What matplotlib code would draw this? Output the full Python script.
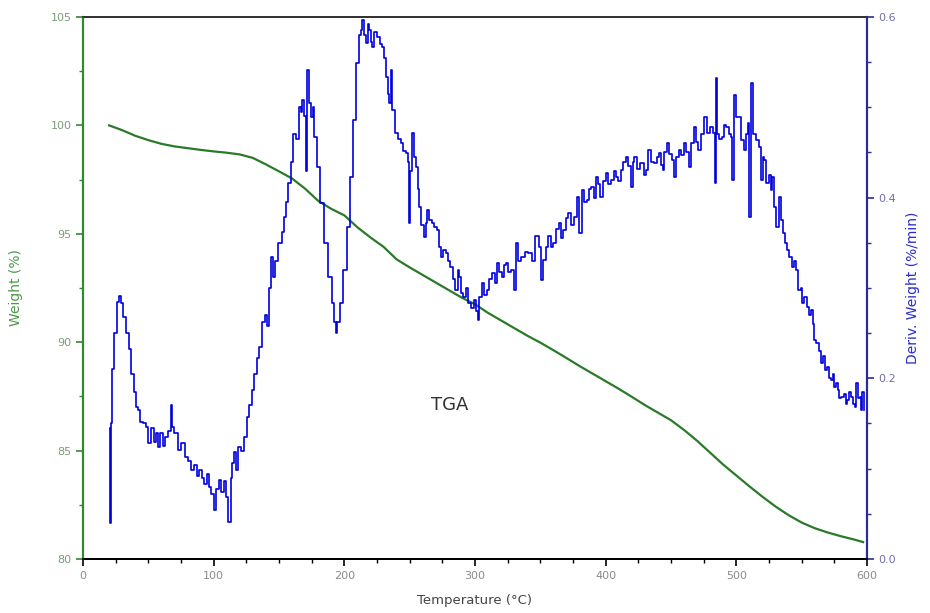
import matplotlib
matplotlib.use("Agg")
import matplotlib.pyplot as plt
from matplotlib.ticker import MultipleLocator

# --- DATA ---
# TGA weight curve
temp_w = [20, 30, 40, 50, 60, 70, 80, 90, 100, 110, 120, 130, 140, 150, 160,
          170, 180, 190, 200, 210, 220, 230, 240, 250, 260, 270, 280, 290, 300,
          310, 320, 330, 340, 350, 360, 370, 380, 390, 400, 410, 420, 430, 440,
          450, 460, 470, 480, 490, 500, 510, 520, 530, 540, 550, 560, 570, 580,
          590, 597]
weight = [100.0, 99.78, 99.52, 99.32, 99.15, 99.03, 98.95, 98.87, 98.8, 98.74,
          98.66, 98.5, 98.2, 97.88, 97.55, 97.08, 96.52, 96.15, 95.85, 95.3,
          94.83, 94.4, 93.82, 93.45, 93.1, 92.75, 92.4, 92.05, 91.75, 91.35,
          91.0, 90.65, 90.3, 89.98, 89.63, 89.27, 88.9, 88.55, 88.2, 87.85,
          87.48, 87.1, 86.75, 86.4, 85.95, 85.45, 84.9, 84.35, 83.85, 83.35,
          82.87, 82.42, 82.02, 81.68, 81.42, 81.22, 81.05, 80.9, 80.78]

# derivative weight curve (noisy DTG signal)
temp_d = [20.5, 21.0, 21.5, 23.0, 25.0, 27.0, 28.5, 30.0, 32.0, 34.0, 36.0, 38.0,
          40.0, 41.0, 43.0, 45.0, 47.0, 49.0, 51.0, 53.0, 55.0, 56.5, 58.0, 60.0,
          62.0, 64.0, 66.0, 68.0, 69.0, 71.0, 74.0, 76.0, 79.5, 82.0, 84.0, 86.0,
          88.0, 90.0, 92.0, 94.0, 95.5, 97.0, 99.0, 101.0, 103.0, 105.0, 107.0,
          109.0, 110.0, 112.5, 113.5, 115.0, 116.5, 118.0, 120.0, 122.0, 125.0,
          126.5, 128.0, 130.0, 132.0, 134.0, 136.0, 138.0, 140.0, 141.5, 143.0,
          144.5, 146.0, 148.0, 151.0, 153.0, 154.5, 156.5, 158.0, 160.0, 162.0,
          164.0, 166.0, 167.5, 168.5, 170.0, 171.0, 172.0, 173.5, 175.0, 176.5,
          177.5, 180.0, 183.0, 186.5, 189.0, 191.5, 193.0, 194.0, 195.5, 198.0,
          200.5, 203.0, 206.0, 208.0, 210.0, 212.0, 213.0, 214.5, 216.0, 217.0,
          218.5, 219.5, 221.0, 222.0, 224.0, 226.0, 228.0, 229.5, 231.0, 232.5,
          234.0, 235.0, 236.0, 237.5, 240.0, 242.0, 244.0, 246.0, 248.0, 249.0,
          250.0, 251.0, 252.5, 254.0, 255.5, 257.0, 258.0, 260.0, 261.5, 263.0,
          264.0, 266.0, 268.0, 270.0, 271.5, 273.0, 274.5, 276.5, 278.5, 280.0,
          282.0, 284.0, 286.0, 287.5, 288.5, 290.0, 292.0, 294.0, 296.0, 298.0,
          300.0, 301.5, 302.5, 304.0, 306.0, 308.0, 310.0, 312.0, 314.0, 316.0,
          317.5, 319.5, 321.5, 323.0, 324.5, 326.5, 329.0, 330.5, 332.0, 334.0,
          337.0, 339.5, 342.0, 344.5, 348.0, 349.5, 351.0, 353.5, 355.0, 357.0,
          359.0, 361.0, 363.0, 365.0, 366.5, 368.5, 370.5, 372.5, 374.5, 376.5,
          379.0, 380.5, 382.5, 384.5, 386.5, 388.0, 390.0, 391.5, 393.0, 395.0,
          397.0, 399.0, 401.0, 403.0, 405.0, 407.0, 408.5, 410.5, 412.5, 414.5,
          416.5, 418.0, 420.0, 421.5, 422.5, 425.0, 428.0, 430.0, 431.5, 434.0,
          436.0, 438.0, 440.0, 441.5, 443.0, 444.0, 446.0, 447.5, 449.5, 451.5,
          453.0, 455.0, 457.0, 459.0, 460.5, 462.5, 464.5, 466.5, 468.5, 470.0,
          472.0, 474.0, 476.0, 478.5, 481.0, 483.5, 484.5, 485.0, 486.0, 488.0,
          490.0, 491.5, 493.0, 495.0, 496.5, 497.5, 499.0, 501.0, 503.0, 504.5,
          506.5, 508.0, 509.5, 510.5, 512.0, 513.5, 516.0, 518.0, 519.5, 521.0,
          522.0, 524.0, 525.5, 527.0, 528.0, 529.5, 531.0, 533.5, 535.0, 536.0,
          538.0, 539.0, 541.0, 543.5, 545.0, 546.0, 548.5, 550.0, 551.0, 553.0,
          555.0, 556.5, 558.0, 559.0, 560.0, 562.5, 564.0, 565.5, 567.0, 568.0,
          570.0, 571.5, 573.0, 574.5, 575.5, 577.0, 578.0, 579.5, 581.0, 583.0,
          584.5, 585.5, 587.0, 588.5, 590.0, 591.0, 592.5, 594.0, 594.5, 596.0,
          597.0, 598.0]
deriv = [0.145, 0.040, 0.150, 0.210, 0.250, 0.285, 0.291, 0.283, 0.268, 0.250,
         0.232, 0.205, 0.185, 0.168, 0.165, 0.152, 0.150, 0.146, 0.128, 0.145,
         0.130, 0.139, 0.124, 0.140, 0.125, 0.135, 0.142, 0.170, 0.146, 0.140,
         0.121, 0.128, 0.113, 0.108, 0.098, 0.104, 0.092, 0.098, 0.090, 0.083,
         0.094, 0.080, 0.072, 0.054, 0.078, 0.087, 0.074, 0.086, 0.069, 0.041,
         0.090, 0.106, 0.118, 0.098, 0.124, 0.120, 0.135, 0.157, 0.170, 0.187,
         0.205, 0.222, 0.235, 0.262, 0.270, 0.258, 0.300, 0.334, 0.312, 0.330,
         0.350, 0.362, 0.379, 0.395, 0.416, 0.440, 0.471, 0.465, 0.500, 0.495,
         0.508, 0.490, 0.430, 0.541, 0.505, 0.489, 0.500, 0.467, 0.434, 0.394,
         0.350, 0.312, 0.283, 0.262, 0.250, 0.262, 0.283, 0.320, 0.367, 0.423,
         0.486, 0.549, 0.580, 0.586, 0.597, 0.580, 0.571, 0.592, 0.586, 0.572,
         0.567, 0.583, 0.578, 0.570, 0.567, 0.555, 0.534, 0.515, 0.505, 0.541,
         0.497, 0.472, 0.465, 0.460, 0.452, 0.449, 0.440, 0.372, 0.430, 0.472,
         0.445, 0.434, 0.410, 0.390, 0.370, 0.356, 0.372, 0.386, 0.375, 0.372,
         0.368, 0.364, 0.345, 0.334, 0.342, 0.339, 0.330, 0.323, 0.310, 0.298,
         0.320, 0.312, 0.295, 0.290, 0.300, 0.283, 0.278, 0.287, 0.275, 0.265,
         0.290, 0.306, 0.292, 0.298, 0.310, 0.317, 0.305, 0.328, 0.318, 0.312,
         0.325, 0.328, 0.318, 0.320, 0.298, 0.350, 0.330, 0.334, 0.340, 0.339,
         0.330, 0.357, 0.345, 0.309, 0.331, 0.345, 0.357, 0.345, 0.350, 0.365,
         0.372, 0.355, 0.364, 0.378, 0.383, 0.370, 0.379, 0.401, 0.361, 0.408,
         0.395, 0.397, 0.410, 0.412, 0.400, 0.423, 0.415, 0.401, 0.418, 0.427,
         0.415, 0.420, 0.430, 0.423, 0.418, 0.431, 0.440, 0.445, 0.435, 0.412,
         0.440, 0.445, 0.432, 0.438, 0.425, 0.431, 0.453, 0.440, 0.438, 0.445,
         0.449, 0.436, 0.431, 0.450, 0.460, 0.448, 0.442, 0.423, 0.445, 0.453,
         0.447, 0.460, 0.450, 0.434, 0.460, 0.478, 0.462, 0.453, 0.470, 0.489,
         0.472, 0.478, 0.472, 0.416, 0.532, 0.470, 0.465, 0.467, 0.480, 0.478,
         0.470, 0.467, 0.420, 0.514, 0.489, 0.489, 0.464, 0.453, 0.470, 0.483,
         0.379, 0.527, 0.470, 0.464, 0.456, 0.420, 0.445, 0.442, 0.416, 0.425,
         0.408, 0.423, 0.390, 0.368, 0.401, 0.375, 0.361, 0.350, 0.342, 0.334,
         0.323, 0.330, 0.320, 0.298, 0.300, 0.283, 0.290, 0.279, 0.270, 0.276,
         0.260, 0.242, 0.239, 0.230, 0.217, 0.225, 0.209, 0.213, 0.200, 0.198,
         0.205, 0.190, 0.195, 0.187, 0.178, 0.179, 0.183, 0.172, 0.176, 0.185,
         0.179, 0.172, 0.168, 0.195, 0.178, 0.179, 0.165, 0.185, 0.165]

# --- COLOURS ---
GREEN = "#2a7a2a"
GREEN_AX = "#2e8b2e"
GREEN_TXT = "#4a9a4a"
BLUE = "#0000dd"
BLUE_AX = "#2a2a9a"
BLUE_TXT = "#2a2ad0"
GREY = "#8a8a8a"

fig = plt.figure(figsize=(9.3, 6.13), dpi=100)
ax1 = fig.add_axes([0.0892, 0.0881, 0.8431, 0.8842])
ax2 = ax1.twinx()

ax1.plot(temp_w, weight, color=GREEN, lw=1.6)
ax2.plot(temp_d, deriv, color=BLUE, lw=1.2, drawstyle="steps-mid")

ax1.set_xlim(0, 600)
ax1.set_ylim(80, 105)
ax2.set_ylim(0.0, 0.6)

# ticks
ax1.xaxis.set_major_locator(MultipleLocator(100))
ax1.xaxis.set_minor_locator(MultipleLocator(25))
ax1.yaxis.set_major_locator(MultipleLocator(5))
ax1.yaxis.set_minor_locator(MultipleLocator(2.5))
ax2.yaxis.set_major_locator(MultipleLocator(0.2))
ax2.yaxis.set_minor_locator(MultipleLocator(0.05))

ax1.tick_params(axis="x", which="major", length=5, width=1.2, color="black",
                labelsize=8, labelcolor=GREY, direction="out", pad=4)
ax1.tick_params(axis="x", which="minor", length=3, width=1.0, color="black",
                direction="out")
ax1.tick_params(axis="y", which="major", length=5, width=1.2, color=GREEN_AX,
                labelsize=8, labelcolor="#7a9a7a", direction="out", pad=3)
ax1.tick_params(axis="y", which="minor", length=3, width=1.0, color=GREEN_AX,
                direction="out")
ax2.tick_params(axis="y", which="major", length=5, width=1.2, color=BLUE_AX,
                labelsize=8, labelcolor="#7070a8", direction="out", pad=3)
ax2.tick_params(axis="y", which="minor", length=3, width=1.0, color=BLUE_AX,
                direction="out")

ax2.yaxis.set_major_formatter(plt.FuncFormatter(lambda v, p: f"{v:.1f}"))

# spines
for ax in (ax1, ax2):
    ax.spines["left"].set_color(GREEN_AX)
    ax.spines["left"].set_linewidth(1.5)
    ax.spines["right"].set_color(BLUE_AX)
    ax.spines["right"].set_linewidth(1.5)
    ax.spines["top"].set_color("#333333")
    ax.spines["top"].set_linewidth(1.3)
    ax.spines["bottom"].set_color("black")
    ax.spines["bottom"].set_linewidth(1.3)

ax1.set_xlabel("Temperature (°C)", fontsize=9.5, color="#444444", labelpad=9)
ax1.set_ylabel("Weight (%)", fontsize=10, color=GREEN_TXT, labelpad=20)
ax2.set_ylabel("Deriv. Weight (%/min)", fontsize=10, color=BLUE_TXT, labelpad=7)

ax1.text(281, 87.1, "TGA", fontsize=13, color="#333333", ha="center", va="center")

fig.savefig("out.png", dpi=100)
